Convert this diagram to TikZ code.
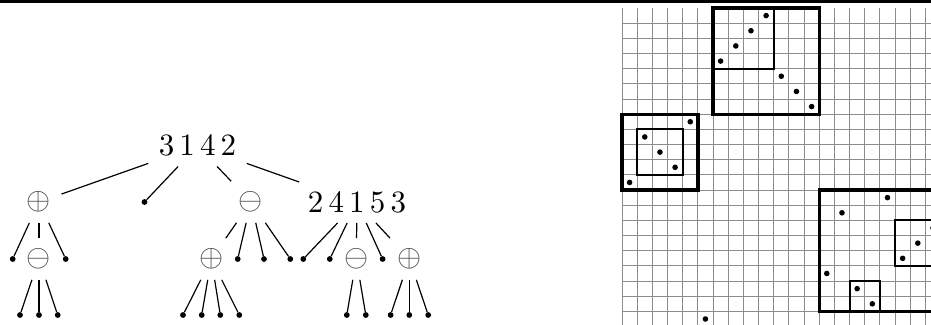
\documentclass[tikz,border=0pt]{standalone}
\usepackage{graphicx}
\newcommand{\bigtxt}[1]{\scalebox{3.1}{#1}}
\begin{document}
\begin{tikzpicture}[x=1pt,y=-1pt,
  lab/.style={inner sep=10.3pt},
  sym/.style={lab, text=black!72},
  leaf/.style={circle, fill=black, inner sep=0pt, minimum size=5.8pt},
  edge/.style={line width=1.2pt},
  gridline/.style={line width=1pt, draw=black!45},
  bigbox/.style={line width=3.3pt},
  smallbox/.style={line width=2pt},
  gdot/.style={fill=black}]
\useasboundingbox (0,0) rectangle (931,324);
\clip (0,0) rectangle (931,324);
% top rule
\fill (0,0) rectangle (931,3.3);

% ---------------- tree ----------------
\node[lab] (r) at (197.5,146) {\bigtxt{$3\,1\,4\,2$}};
\node[sym] (a1) at (39,202) {\bigtxt{$\oplus$}};
\node[leaf] (b1) at (144.5,202) {};
\node[sym] (c1) at (251,202) {\bigtxt{$\ominus$}};
\node[lab] (d1) at (357,202.5) {\bigtxt{$2\,4\,1\,5\,3$}};

\node[leaf] (a2l) at (12.7,259) {};
\node[sym] (a2m) at (39,259) {\bigtxt{$\ominus$}};
\node[leaf] (a2r) at (65.7,259) {};
\node[leaf] (a3a) at (20,315) {};
\node[leaf] (a3b) at (39,315) {};
\node[leaf] (a3c) at (57.7,315) {};

\node[sym] (c2) at (211.3,259) {\bigtxt{$\oplus$}};
\node[leaf] (c2a) at (237.7,259) {};
\node[leaf] (c2b) at (264,259) {};
\node[leaf] (c2c) at (290.3,259) {};
\node[leaf] (c3a) at (183,315) {};
\node[leaf] (c3b) at (201.7,315) {};
\node[leaf] (c3c) at (220.3,315) {};
\node[leaf] (c3d) at (239.3,315) {};

\node[leaf] (d2a) at (303.3,259) {};
\node[leaf] (d2b) at (329.8,259) {};
\node[sym] (d2) at (356.3,259) {\bigtxt{$\ominus$}};
\node[leaf] (d2c) at (382.6,259) {};
\node[sym] (d3) at (409.3,259) {\bigtxt{$\oplus$}};
\node[leaf] (d4a) at (346.8,315) {};
\node[leaf] (d4b) at (365.8,315) {};
\node[leaf] (d5a) at (390.6,315) {};
\node[leaf] (d5b) at (409.3,315) {};
\node[leaf] (d5c) at (428.2,315) {};

\foreach \p/\c in {r/a1,r/b1,r/c1,r/d1,
  a1/a2l,a1/a2m,a1/a2r,a2m/a3a,a2m/a3b,a2m/a3c,
  c1/c2,c1/c2a,c1/c2b,c1/c2c,c2/c3a,c2/c3b,c2/c3c,c2/c3d,
  d1/d2a,d1/d2b,d1/d2,d1/d2c,d1/d3,d2/d4a,d2/d4b,d3/d5a,d3/d5b,d3/d5c}
  \draw[edge] (\p) -- (\c);

% ---------------- grid ----------------
\begin{scope}[shift={(622,8)}, x=15.17pt, y=-15.17pt]
  \foreach \i in {0,...,21} \draw[gridline] (\i,0) -- (\i,22);
  \foreach \j in {1,...,22} \draw[gridline] (0,\j) -- (22,\j);
  \draw[bigbox] (6,0) rectangle (13,7);
  \draw[bigbox] (0,7) rectangle (5,12);
  \draw[bigbox] (13,12) rectangle (21,20);
  \draw[smallbox] (6,0) rectangle (10,4);
  \draw[smallbox] (1,8) rectangle (4,11);
  \draw[smallbox] (18,14) rectangle (21,17);
  \draw[smallbox] (15,18) rectangle (17,20);
  \foreach \c/\r in {9/0,8/1,7/2,6/3,10/4,11/5,12/6,4/7,1/8,2/9,3/10,0/11,
     17/12,14/13,20/14,19/15,18/16,13/17,15/18,16/19,5/20}
    \fill[gdot] (\c+0.5,\r+0.5) circle[radius=2.8pt];
\end{scope}
\end{tikzpicture}
\end{document}
